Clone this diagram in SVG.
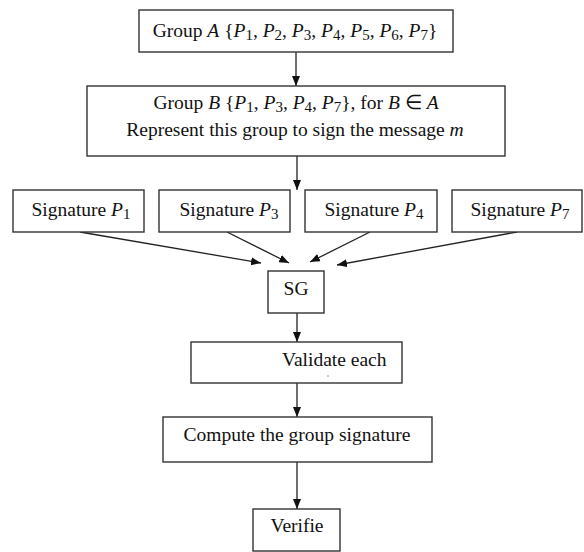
<svg xmlns="http://www.w3.org/2000/svg" width="584" height="552" viewBox="0 0 584 552">
<style>
.box{fill:#fff;stroke:#333;stroke-width:1.4}
.t{font-family:"Liberation Serif","Times New Roman",serif;font-size:19.5px;fill:#111}
.c{text-anchor:middle}
.i{font-style:italic}
.s{font-size:15px}
.conn line{stroke:#222;stroke-width:1.3;marker-end:url(#ah)}
</style>
<defs>
<marker id="ah" viewBox="0 0 10 8" refX="10" refY="4" markerWidth="10" markerHeight="8" markerUnits="userSpaceOnUse" orient="auto">
<path d="M0,0 L10,4 L0,8 z" fill="#111"/>
</marker>
</defs>
<rect width="584" height="552" fill="#fff"/>
<g class="conn">
<line x1="296" y1="52" x2="296" y2="86"/>
<line x1="297" y1="156" x2="297" y2="190"/>
<line x1="80" y1="232" x2="261" y2="263"/>
<line x1="227" y1="232" x2="289" y2="263"/>
<line x1="370" y1="232" x2="310" y2="262"/>
<line x1="517" y1="232" x2="337" y2="265"/>
<line x1="297" y1="313" x2="297" y2="342"/>
<line x1="297" y1="383" x2="297" y2="417"/>
<line x1="297" y1="462" x2="297" y2="509"/>
</g>
<g id="groupA">
<rect class="box" x="139" y="10" width="314" height="42"/>
<text class="t c" x="295" y="37">Group <tspan class="i">A</tspan> {<tspan class="i">P</tspan><tspan class="s" dy="3">1</tspan><tspan dy="-3">, </tspan><tspan class="i">P</tspan><tspan class="s" dy="3">2</tspan><tspan dy="-3">, </tspan><tspan class="i">P</tspan><tspan class="s" dy="3">3</tspan><tspan dy="-3">, </tspan><tspan class="i">P</tspan><tspan class="s" dy="3">4</tspan><tspan dy="-3">, </tspan><tspan class="i">P</tspan><tspan class="s" dy="3">5</tspan><tspan dy="-3">, </tspan><tspan class="i">P</tspan><tspan class="s" dy="3">6</tspan><tspan dy="-3">, </tspan><tspan class="i">P</tspan><tspan class="s" dy="3">7</tspan><tspan dy="-3">}</tspan></text>
</g>
<g id="groupB">
<rect class="box" x="87" y="86" width="418" height="70"/>
<text class="t c" x="296" y="109">Group <tspan class="i">B</tspan> {<tspan class="i">P</tspan><tspan class="s" dy="3">1</tspan><tspan dy="-3">, </tspan><tspan class="i">P</tspan><tspan class="s" dy="3">3</tspan><tspan dy="-3">, </tspan><tspan class="i">P</tspan><tspan class="s" dy="3">4</tspan><tspan dy="-3">, </tspan><tspan class="i">P</tspan><tspan class="s" dy="3">7</tspan><tspan dy="-3">}, for </tspan><tspan class="i">B</tspan> ∈ <tspan class="i">A</tspan></text>
<text class="t c" x="295" y="136">Represent this group to sign the message <tspan class="i">m</tspan></text>
</g>
<g id="sigP1">
<rect class="box" x="13" y="190" width="131" height="42"/>
<text class="t c" x="81" y="216">Signature <tspan class="i">P</tspan><tspan class="s" dy="3">1</tspan></text>
</g>
<g id="sigP3">
<rect class="box" x="159" y="190" width="131" height="42"/>
<text class="t c" x="229" y="216">Signature <tspan class="i">P</tspan><tspan class="s" dy="3">3</tspan></text>
</g>
<g id="sigP4">
<rect class="box" x="305" y="190" width="132" height="42"/>
<text class="t c" x="374" y="216">Signature <tspan class="i">P</tspan><tspan class="s" dy="3">4</tspan></text>
</g>
<g id="sigP7">
<rect class="box" x="452" y="190" width="130" height="42"/>
<text class="t c" x="520" y="216">Signature <tspan class="i">P</tspan><tspan class="s" dy="3">7</tspan></text>
</g>
<g id="sg">
<rect class="box" x="268" y="271" width="56" height="42"/>
<text class="t c" x="296" y="295">SG</text>
</g>
<g id="validate">
<rect class="box" x="191" y="342" width="211" height="41"/>
<text class="t" x="282" y="366">Validate each</text>
<circle cx="328" cy="376" r="0.7" fill="#666"/>
</g>
<g id="compute">
<rect class="box" x="163" y="417" width="269" height="45"/>
<text class="t c" x="297" y="441">Compute the group signature</text>
</g>
<g id="verifie">
<rect class="box" x="253" y="509" width="87" height="42"/>
<text class="t c" x="297" y="532">Verifie</text>
</g>
</svg>
